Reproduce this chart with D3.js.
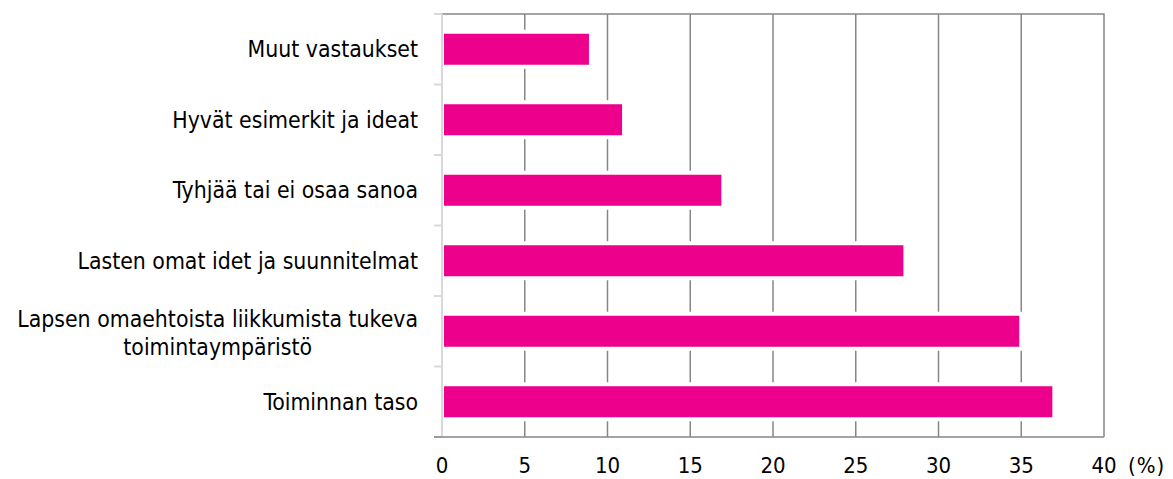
<!DOCTYPE html>
<html lang="fi">
<head>
<meta charset="UTF-8">
<title>chart</title>
<style type="text/css">
	body { margin: 0; background: #fff; }
	text { font-family: "DejaVu Sans Condensed", "DejaVu Sans", sans-serif; font-stretch: condensed; fill: #000; }
</style>
</head>
<body>
<svg id="graph" width="1173" height="479"></svg>

<script src="https://cdn.jsdelivr.net/npm/d3@7/dist/d3.min.js"></script>
<script>
	"use strict";

	var categories = [
		"Muut vastaukset",
		"Hyvät esimerkit ja ideat",
		"Tyhjää tai ei osaa sanoa",
		"Lasten omat idet ja suunnitelmat",
		"Lapsen omaehtoista liikkumista tukeva|toimintaympäristö",
		"Toiminnan taso"
	];
	var values = [9, 11, 17, 28, 35, 37];
	var ticks = [0, 5, 10, 15, 20, 25, 30, 35, 40];
	var unitLabel = "(%)";

	var plotLeft = 442, plotRight = 1104, plotTop = 14, plotBottom = 437;
	var svg = d3.select("#graph");

	var x = d3.scaleLinear().domain([0, 40]).range([plotLeft, plotRight]);
	var y = d3.scaleBand().domain(d3.range(categories.length)).range([plotTop, plotBottom]).paddingInner(0.56).paddingOuter(0.28);
	var band = (plotBottom - plotTop) / categories.length;

	// gridlines
	svg.append("g")
	  .selectAll("line")
	  .data(ticks.slice(1, -1))
	  .enter()
	  .append("line")
	  .attr("x1", function(d){ return x(d); })
	  .attr("x2", function(d){ return x(d); })
	  .attr("y1", plotTop)
	  .attr("y2", plotBottom)
	  .attr("stroke", "#868686")
	  .attr("stroke-width", 1.5);

	// frame top and right
	svg.append("path")
	  .attr("d", "M" + plotLeft + "," + plotTop + "H" + plotRight + "V" + plotBottom)
	  .attr("fill", "none")
	  .attr("stroke", "#868686")
	  .attr("stroke-width", 1.5);

	// bars with white halo
	var bars = svg.append("g").selectAll("g").data(values).enter().append("g");
	bars.append("rect")
	  .attr("x", x(0) + 1)
	  .attr("y", function(d, i){ return y(i) - 4; })
	  .attr("width", function(d){ return x(d) - x(0) + 1; })
	  .attr("height", y.bandwidth() + 8)
	  .attr("fill", "#fff");
	bars.append("rect")
	  .attr("x", x(0) + 2)
	  .attr("y", function(d, i){ return y(i); })
	  .attr("width", function(d){ return x(d) - x(0) - 4; })
	  .attr("height", y.bandwidth())
	  .attr("fill", "#ec008c");

	// left axis
	svg.append("line")
	  .attr("x1", plotLeft).attr("x2", plotLeft)
	  .attr("y1", plotTop).attr("y2", plotBottom)
	  .attr("stroke", "#d9d9d9").attr("stroke-width", 2);
	svg.append("g")
	  .selectAll("line")
	  .data(d3.range(categories.length + 1))
	  .enter()
	  .append("line")
	  .attr("x1", plotLeft - 8).attr("x2", plotLeft)
	  .attr("y1", function(d){ return plotTop + d * band; })
	  .attr("y2", function(d){ return plotTop + d * band; })
	  .attr("stroke", "#d9d9d9").attr("stroke-width", 2);

	// bottom axis
	svg.append("line")
	  .attr("x1", plotLeft - 8).attr("x2", plotRight)
	  .attr("y1", plotBottom).attr("y2", plotBottom)
	  .attr("stroke", "#868686").attr("stroke-width", 1.5);

	// category labels
	svg.append("g")
	  .selectAll("text")
	  .data(categories)
	  .enter()
	  .append("text")
	  .attr("text-anchor", "middle")
	  .attr("font-size", 22.8)
	  .each(function(d, i){
		var lines = d.split("|");
		var t = d3.select(this);
		var cy = y(i) + y.bandwidth() / 2;
		var w = 0;
		var off = lines.length > 1 ? 9.5 : 8;
		lines.forEach(function(s, j){
			t.append("tspan")
			  .attr("y", cy + off + (j - (lines.length - 1) / 2) * 28)
			  .text(s);
		});
		t.selectAll("tspan").each(function(){ w = Math.max(w, this.getComputedTextLength()); });
		t.selectAll("tspan").attr("x", 418 - w / 2);
	  });

	// tick labels
	svg.append("g")
	  .selectAll("text")
	  .data(ticks)
	  .enter()
	  .append("text")
	  .attr("x", function(d){ return x(d); })
	  .attr("y", 473)
	  .attr("text-anchor", "middle")
	  .attr("font-size", 22)
	  .text(function(d){ return d; });

	svg.append("text")
	  .attr("x", 1128)
	  .attr("y", 473)
	  .attr("font-size", 22)
	  .attr("letter-spacing", 1)
	  .text(unitLabel);
</script>
</body>
</html>
